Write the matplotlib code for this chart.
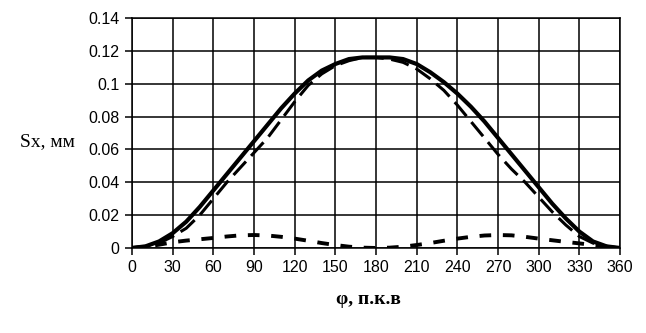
import numpy as np
import matplotlib
matplotlib.use('Agg')
from matplotlib import pyplot as plt

phi = list(range(0, 361, 10))

s_total = [0, 0.001, 0.004, 0.009, 0.016, 0.025, 0.035, 0.045, 0.055, 0.065,
           0.075, 0.085, 0.094, 0.102, 0.108, 0.112, 0.115, 0.116, 0.116,
           0.116, 0.115, 0.112, 0.107, 0.101, 0.094, 0.086, 0.077, 0.067, 0.057,
           0.047, 0.037, 0.027, 0.018, 0.010, 0.004, 0.001, 0]
s_first = [0, 0.001, 0.003, 0.007, 0.012, 0.020, 0.030, 0.040, 0.049, 0.058,
           0.067, 0.078, 0.089, 0.099, 0.106, 0.111, 0.114, 0.116, 0.116,
           0.115, 0.113, 0.109, 0.103, 0.096, 0.087, 0.077, 0.067, 0.057, 0.048,
           0.040, 0.031, 0.022, 0.014, 0.007, 0.003, 0.001, 0]
s_second = [0, 0.0008, 0.002, 0.0035, 0.0045, 0.0053, 0.0061, 0.007, 0.0077, 0.0079,
            0.0076, 0.0068, 0.0057, 0.0044, 0.003, 0.0018, 0.0008, 0.0002, 0,
            0.0002, 0.0008, 0.0018, 0.003, 0.0044, 0.0057, 0.0068, 0.0076, 0.0079, 0.0077,
            0.0068, 0.0057, 0.0047, 0.0037, 0.0028, 0.0018, 0.0008, 0]

xticks = list(range(0, 361, 30))
yticks = [0, 0.02, 0.04, 0.06, 0.08, 0.1, 0.12, 0.14]
ytick_labels = ['0', '0.02', '0.04', '0.06', '0.08', '0.1', '0.12', '0.14']

tick_font = ['Liberation Sans', 'DejaVu Sans']
label_font = ['Liberation Serif', 'DejaVu Serif']

fig = plt.figure(figsize=(6.46, 3.33), dpi=100)
ax = fig.add_axes([0.2043, 0.2553, 0.7555, 0.6906])

ax.plot(phi, s_total, color='black', lw=3.0, solid_capstyle='round', solid_joinstyle='round')
ax.plot(phi, s_first, color='black', lw=2.2, dashes=(6, 2.5))
ax.plot(phi, s_second, color='black', lw=2.8, dashes=(3, 3))

ax.set_xlim(0, 360)
ax.set_ylim(0, 0.14)
ax.set_xticks(xticks)
ax.set_yticks(yticks)
ax.set_yticklabels(ytick_labels)
ax.grid(True, color='black', lw=1.1)
ax.set_axisbelow(True)
for sp in ax.spines.values():
    sp.set_linewidth(1.1)
ax.tick_params(direction='out', length=5, width=1.1, pad=4, labelsize=11.5)
for lab in ax.get_xticklabels() + ax.get_yticklabels():
    lab.set_family(tick_font)

fig.text(47 / 646, 1 - 142 / 333, 'Sx, мм', family=label_font, fontsize=14,
         ha='center', va='center')
fig.text(368 / 646, 1 - 300 / 333, 'φ, п.к.в', family=label_font, fontsize=14,
         fontweight='bold', ha='center', va='center')

fig.savefig('out.png', dpi=100)
